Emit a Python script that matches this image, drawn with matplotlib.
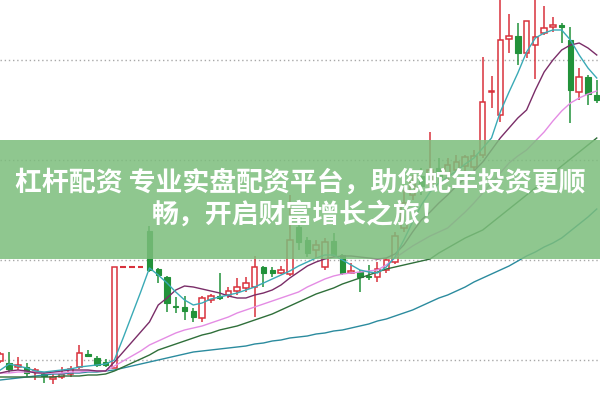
import numpy as np
import matplotlib
matplotlib.use('Agg')
import matplotlib.pyplot as plt
from matplotlib.patches import Rectangle

# prices (arbitrary units, 0 = bottom edge, 400 = top edge)
opens = [39, 37, 33, 33, 28, 26, 21, 23, 26, 33, 46, 42, 38, 32, 133, 133, 133, 169, 131, 123,
         94, 93, 89, 82, 100, 104, 105, 109, 112, 113, 133, 130, 127, 126, 173, 160, 150, 133, 159, 145,
         127, 128, 124, 123, 130, 138, 172, 205, 224, 216, 232, 226, 230, 234, 233, 245, 308, 285, 361, 364,
         347, 355, 367, 373, 375, 360, 308, 323, 305]
highs = [48, 48, 43, 37, 32, 28, 26, 33, 34, 55, 50, 44, 41, 133, 133, 133, 133, 174, 132, 124,
         103, 104, 92, 104, 106, 127, 113, 122, 123, 144, 134, 133, 134, 205, 180, 163, 160, 162, 167, 146,
         137, 130, 135, 138, 142, 168, 210, 225, 232, 268, 242, 242, 245, 245, 250, 343, 324, 408, 386, 377,
         379, 408, 394, 383, 377, 373, 332, 325, 320]
lows = [37, 27, 30, 23, 20, 17, 16, 21, 23, 31, 43, 33, 33, 32, 133, 133, 133, 128, 117, 88,
        87, 80, 78, 78, 97, 100, 102, 105, 108, 83, 113, 123, 126, 124, 150, 143, 142, 130, 143, 125,
        126, 108, 120, 118, 127, 136, 168, 200, 205, 210, 217, 220, 225, 227, 230, 242, 292, 278, 347, 335,
        342, 321, 365, 368, 357, 277, 300, 295, 297]
closes = [46, 31, 35, 27, 30, 24, 23, 26, 31, 47, 44, 35, 35, 133, 133, 133, 133, 130, 125, 97,
          93, 89, 83, 102, 104, 102, 109, 113, 117, 133, 127, 127, 130, 160, 158, 147, 155, 158, 145, 127,
          129, 123, 123, 131, 140, 164, 197, 218, 214, 230, 223, 235, 238, 243, 244, 298, 309, 360, 364, 347,
          379, 363, 372, 375, 373, 310, 323, 306, 300]

ma5 = [30, 36, 34, 32, 29, 28, 29, 30, 31, 33, 34, 35, 36, 40, 62, 85, 108, 132, 125, 117,
       108, 100, 95, 97, 101, 103, 105, 107, 110, 113, 117, 121, 125, 129, 134, 138, 142, 145, 145, 140,
       135, 130, 128, 127, 133, 143, 160, 178, 195, 208, 217, 223, 229, 236, 242, 252, 262, 288, 308, 327,
       348, 362, 367, 370, 370, 360, 345, 332, 322]
ma10 = [27, 29, 30, 29, 27, 27, 28, 29, 30, 30, 30, 29, 29, 38, 48, 58, 68, 78, 95, 102,
        110, 114, 113, 111, 109, 107, 104, 102, 102, 105, 107, 110, 115, 122, 128, 134, 138, 141, 143, 144,
        144, 143, 142, 141, 142, 146, 155, 168, 180, 188, 197, 205, 214, 222, 229, 238, 250, 262, 272, 282,
        290, 310, 328, 340, 350, 355, 357, 352, 345]
ma20 = [27, 27, 28, 28, 28, 27, 27, 27, 28, 28, 29, 29, 29, 34, 39, 44, 49, 55, 59, 63,
        67, 70, 72, 74, 77, 80, 83, 87, 90, 93, 96, 99, 102, 105, 108, 113, 117, 121, 124, 126,
        127, 128, 129, 130, 135, 142, 148, 154, 159, 164, 168, 172, 180, 188, 197, 207, 217, 227, 237, 244,
        250, 259, 268, 279, 289, 297, 302, 306, 309]
ma30 = [23, 23, 23, 23, 23, 23, 23, 24, 24, 24, 25, 25, 26, 29, 33, 37, 41, 45, 50, 53,
        56, 59, 62, 65, 67, 70, 72, 74, 77, 80, 83, 86, 90, 94, 98, 102, 106, 109, 112, 116,
        119, 122, 125, 128, 131, 133, 135, 137, 139, 141, 147, 152, 157, 162, 166, 170, 177, 184, 191, 198,
        205, 212, 220, 227, 234, 241, 248, 255, 262]
ma60 = [20, 21, 22, 23, 24, 25, 26, 26, 27, 27, 28, 28, 29, 30, 32, 34, 36, 38, 40, 42,
        44, 46, 48, 49, 50, 51, 52, 53, 54, 56, 57, 59, 60, 62, 63, 64, 66, 67, 69, 70,
        72, 74, 76, 79, 81, 84, 87, 90, 94, 98, 102, 105, 109, 113, 118, 122, 126, 130, 134, 139,
        144, 148, 153, 157, 162, 169, 176, 183, 191]

grid_levels = [40, 140, 240, 340]
title_lines = ['杠杆配资 专业实盘配资平台，助您蛇年投资更顺', '畅，开启财富增长之旅！']

up_color = '#d8323c'
down_color = '#22923a'

fig = plt.figure(figsize=(6, 4), dpi=100)
ax = fig.add_axes([0, 0, 1, 1])
ax.set_xlim(-0.04, 68.37)
ax.set_ylim(0, 400)
ax.axis('off')

for g in grid_levels:
    ax.axhline(g, color='#a8a8a8', lw=1, linestyle=(0, (1, 2)), zorder=1)

x = np.arange(len(opens))
w = 0.62
for i in x:
    o, h, l, c = opens[i], highs[i], lows[i], closes[i]
    up = c >= o
    col = up_color if up else down_color
    lo_b, hi_b = min(o, c), max(o, c)
    # wicks
    if h > hi_b:
        ax.vlines(i, hi_b, h, color=col, lw=1.1, zorder=3)
    if l < lo_b:
        ax.vlines(i, l, lo_b, color=col, lw=1.1, zorder=3)
    if hi_b - lo_b < 0.5:
        ax.hlines(o, i - w / 2, i + w / 2, color=col, lw=1.5, zorder=3)
    elif up:
        ax.add_patch(Rectangle((i - w / 2, lo_b), w, hi_b - lo_b, facecolor='white',
                               edgecolor=col, lw=1.1, zorder=3))
    else:
        ax.add_patch(Rectangle((i - w / 2, lo_b), w, hi_b - lo_b, facecolor=col,
                               edgecolor=col, lw=0.8, zorder=3))

ax.plot(x, ma60, color='#2b8b9e', lw=1.0, zorder=4)
ax.plot(x, ma30, color='#2f6f3a', lw=1.0, zorder=4)
ax.plot(x, ma20, color='#e48ce4', lw=1.0, zorder=4)
ax.plot(x, ma10, color='#7a2d68', lw=1.0, zorder=4)
ax.plot(x, ma5, color='#3aaab6', lw=1.0, zorder=4)

# translucent green banner across the middle
ax.axhspan(141, 260, color='#7cbd7c', alpha=0.85, lw=0, zorder=5)

fig.text(0.5, 0.5425, title_lines[0], ha='center', va='center', color='white',
         fontsize=19.4, fontweight='bold', family=['Noto Sans CJK SC', 'DejaVu Sans'], zorder=6)
fig.text(0.5, 0.4625, title_lines[1], ha='center', va='center', color='white',
         fontsize=19.4, fontweight='bold', family=['Noto Sans CJK SC', 'DejaVu Sans'], zorder=6)

fig.savefig('out.png', dpi=100)
